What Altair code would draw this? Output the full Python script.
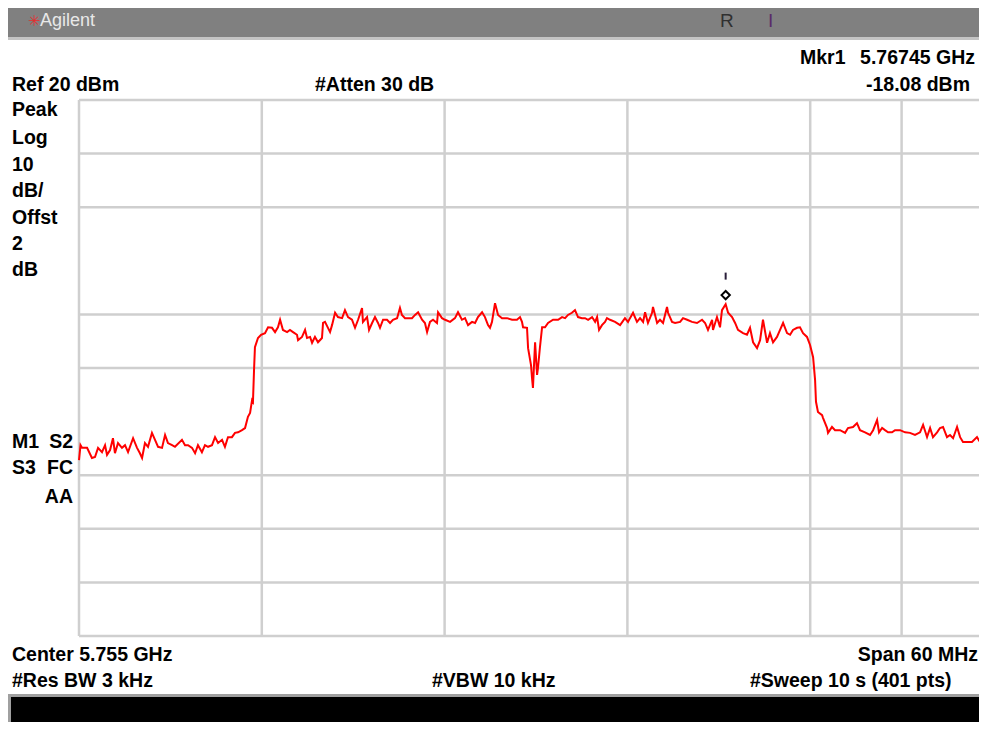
import altair as alt
import pandas as pd

# ---- trace (frequency offset from 5.725 GHz in MHz, level in dBm) ----
FREQ_OFFSET_MHZ = [
    0.0, 0.1, 0.2, 0.53, 0.85, 1.05, 1.25, 1.51, 1.71, 1.84, 2.04, 2.23, 2.36, 2.56, 2.82,
    3.02, 3.22, 3.55, 3.81, 4.00, 4.14, 4.33, 4.53, 4.79, 4.99, 5.19, 5.45, 5.65, 5.84, 6.11,
    6.30, 6.76, 6.96, 7.16, 7.42, 7.62, 7.81, 8.07, 8.27, 8.47, 8.73, 8.93, 9.13, 9.39, 9.58,
    9.78, 10.04, 10.24, 10.44, 10.70, 10.90, 11.09, 11.23, 11.36, 11.42, 11.49, 11.55, 11.75,
    11.95, 12.21, 12.41, 12.67, 12.87, 13.06, 13.20, 13.39, 13.66, 13.85, 14.05, 14.31, 14.38,
    14.64, 14.84, 14.97, 15.17, 15.30, 15.49, 15.69, 15.95, 16.02, 16.15, 16.48, 16.61, 16.81,
    17.00, 17.27, 17.46, 17.66, 17.92, 18.12, 18.32, 18.58, 18.64, 18.91, 19.04, 19.24, 19.43,
    19.63, 19.76, 19.96, 20.22, 20.42, 20.61, 20.88, 21.07, 21.20, 21.40, 21.60, 21.86, 22.06,
    22.26, 22.52, 22.71, 22.85, 23.04, 23.24, 23.50, 23.57, 23.83,
    24.03, 24.36, 24.68, 24.88, 25.14, 25.34, 25.54, 25.80, 26.00, 26.19, 26.46, 26.65, 26.85,
    26.98, 27.11, 27.31, 27.51, 27.77, 28.10, 28.43, 28.75, 28.95, 29.08, 29.15, 29.41, 29.48,
    29.67, 29.74, 29.80, 29.94, 30.07, 30.13, 30.26, 30.40, 30.59, 30.79, 31.12, 31.45, 31.71,
    31.91, 32.10, 32.36, 32.56, 32.76, 33.02, 33.22, 33.42, 33.68, 33.88, 34.01, 34.14, 34.33,
    34.53, 34.66, 34.86, 35.19, 35.52, 35.84, 36.04,
    36.17, 36.37, 36.63, 36.83, 37.03, 37.16, 37.35, 37.62, 37.68, 37.95, 38.14, 38.34, 38.60,
    38.67, 38.93, 39.13, 39.46, 39.65, 39.92, 40.24, 40.57, 40.90, 41.10, 41.29, 41.56, 41.62,
    41.88, 42.08, 42.21, 42.45, 42.61, 42.87, 43.07, 43.26, 43.59, 43.85, 44.05, 44.25, 44.51,
    44.71, 44.90, 45.17, 45.36, 45.56, 45.82, 46.02, 46.22, 46.48, 46.68, 46.87, 47.14, 47.33,
    47.53, 47.79, 47.99, 48.19, 48.32, 48.38, 48.51, 48.78, 48.84, 49.11, 49.17, 49.43, 49.63,
    49.96, 50.29, 50.48, 50.81, 51.07, 51.27, 51.60, 51.93, 52.13, 52.39, 52.52, 52.72, 52.91,
    53.11, 53.37, 53.57, 53.90, 54.23, 54.55, 54.88, 55.21, 55.41, 55.67, 55.87, 56.06, 56.33,
    56.52, 56.72, 56.98, 57.18, 57.38, 57.64, 57.84, 58.03, 58.36, 58.62, 58.95, 59.15, 59.35,
    59.61,
]
LEVEL_DBM = [
    -47.2, -44.4, -44.9, -44.9, -46.8, -46.6, -44.9, -45.7, -44.4, -46.2, -45.3, -43.1, -45.9, -44.0, -44.9,
    -44.4, -45.7, -43.1, -44.9, -45.9, -46.8, -44.0, -44.7, -42.1, -43.4, -44.7, -44.9, -42.5, -44.0, -44.4,
    -44.7, -43.4, -44.4, -44.4, -44.9, -45.9, -44.4, -45.7, -44.4, -44.7, -44.4, -42.9, -44.0, -43.4, -44.7,
    -42.9, -42.9, -42.1, -42.0, -41.6, -41.2, -39.1, -38.4, -36.0, -36.3, -30.4, -26.1, -24.4,
    -23.8, -23.5, -22.4, -22.5, -23.3, -22.4, -21.0, -22.9, -23.3, -22.9, -23.3, -23.8, -24.8,
    -24.2, -22.9, -24.4, -24.2, -25.3, -24.2, -25.2, -24.4, -21.6, -21.4, -23.3, -22.0, -19.7,
    -20.5, -20.7, -19.2, -20.5, -21.0, -22.5, -21.0, -18.8, -21.4, -20.5, -22.9, -21.6, -20.5,
    -21.6, -22.5, -21.0, -21.0, -21.6, -21.0, -20.7, -18.8, -20.1, -20.7, -20.7, -20.7, -20.1,
    -19.6, -21.0, -21.6, -23.3, -21.4, -21.0, -21.6, -19.6, -20.7,
    -21.0, -21.4, -20.7, -19.6, -21.0, -20.7, -22.0, -21.4, -21.6, -20.5, -19.6, -20.5, -22.0,
    -22.5, -21.4, -17.9, -20.1, -20.7, -20.7, -21.0, -21.0, -20.5, -21.4, -22.4, -22.5, -26.3,
    -29.4, -31.9, -33.7, -25.2, -31.3, -30.0, -26.1, -22.4, -22.4, -21.6, -21.0, -21.0, -20.5,
    -20.7, -20.1, -19.7, -19.2, -20.5, -20.7, -20.7, -21.0, -20.5, -21.4, -20.5, -22.9, -22.0,
    -21.4, -20.7, -21.0, -21.4, -22.0, -20.7, -21.4,
    -20.7, -19.7, -21.4, -20.7, -21.4, -19.6, -21.6, -19.7, -18.6, -21.6, -21.0, -21.6, -18.6,
    -19.7, -21.4, -21.6, -21.4, -20.7, -21.0, -21.4, -21.6, -21.0, -21.6, -22.9, -21.0, -22.9,
    -20.5, -22.4, -19.2, -18.08, -19.7, -20.5, -21.6, -22.9, -23.5, -23.8, -22.5, -25.2, -26.3,
    -24.8, -21.0, -25.3, -23.5, -25.2, -24.2, -22.9, -21.6, -23.5, -23.8, -22.9, -22.5, -22.4,
    -23.5, -24.2, -25.7, -28.0, -32.2, -36.3, -38.2, -38.8, -39.3, -41.2, -42.1, -41.0, -41.6,
    -41.6, -42.1, -41.2, -41.0, -40.3, -41.6, -42.0, -42.5, -41.6, -39.7, -42.0, -41.2, -41.6,
    -42.0, -42.0, -41.6, -41.6, -42.0, -42.1, -42.5, -42.0, -40.6, -42.9, -41.2, -42.9, -42.0,
    -41.2, -41.0, -42.9, -42.5, -43.1, -41.0, -42.9, -43.8, -43.8, -43.8, -42.9, -43.8, -44.7,
    -45.7,
]

H_GRID_DBM = [20, 10, 0, -20, -30, -50, -60, -70, -80]
V_GRID_MHZ = [0, 12, 24, 36, 48, 54]
MARKER_MHZ = [42.45]
MARKER_DBM = [-18.08]

W, H = 971, 714
FONT = "Liberation Sans, Arial, sans-serif"
GRID = "#cfcfcf"

xs = alt.Scale(domain=[0, 60], range=[71, 985])
ys = alt.Scale(domain=[-80, 20], range=[628, 92])


def one():
    return alt.Chart(pd.DataFrame({"k": [0]}))


def box(x, x2, y, y2, color):
    return one().mark_rect(color=color).encode(
        x=alt.value(x), x2=alt.value(x2), y=alt.value(y), y2=alt.value(y2))


def label(t, x, y, align="left", size=19.5, color="black", weight="bold"):
    return alt.Chart(pd.DataFrame({"t": [t]})).mark_text(
        align=align, baseline="middle", font=FONT, fontSize=size,
        fontWeight=weight, color=color).encode(
        x=alt.value(x), y=alt.value(y), text="t:N")


trace_df = pd.DataFrame({"mhz": FREQ_OFFSET_MHZ, "dbm": LEVEL_DBM})
hgrid = alt.Chart(pd.DataFrame({"dbm": H_GRID_DBM})).mark_rule(
    color=GRID, strokeWidth=2.5).encode(
    y=alt.Y("dbm:Q", scale=ys, axis=None), x=alt.value(71), x2=alt.value(W))
vgrid = alt.Chart(pd.DataFrame({"mhz": V_GRID_MHZ})).mark_rule(
    color=GRID, strokeWidth=2.5).encode(
    x=alt.X("mhz:Q", scale=xs, axis=None), y=alt.value(92), y2=alt.value(628))

trace = alt.Chart(trace_df).mark_line(color="#ff0000", strokeWidth=2, clip=True).encode(
    x=alt.X("mhz:Q", scale=xs, axis=None),
    y=alt.Y("dbm:Q", scale=ys, axis=None),
)

mk_df = pd.DataFrame({"mhz": MARKER_MHZ, "dbm": MARKER_DBM})
marker = alt.Chart(mk_df).mark_point(
    shape="diamond", filled=False, color="black", strokeWidth=2, size=70, yOffset=-9, opacity=1
).encode(x=alt.X("mhz:Q", scale=xs, axis=None), y=alt.Y("dbm:Q", scale=ys, axis=None))
marker_tick = alt.Chart(mk_df).mark_tick(
    orient="vertical", color="#2a1f3a", size=7, thickness=2, yOffset=-28, opacity=1
).encode(x=alt.X("mhz:Q", scale=xs, axis=None), y=alt.Y("dbm:Q", scale=ys, axis=None))

layers = [
    box(0, W, 0, 29, "#808080"),
    box(0, W, 29, 32, "#c4c4c4"),
    label("\u2733", 20, 13, size=15, color="#e03030", weight="normal"),
    label("Agilent", 32, 13, size=18, color="#e8e8e8", weight="normal"),
    label("R", 712, 13, size=19, color="#303030", weight="normal"),
    label("I", 760, 13, size=19, color="#5a2a6a", weight="normal"),
    hgrid,
    vgrid,
    trace,
    marker,
    marker_tick,
    label("Mkr1", 792, 50),
    label("5.76745 GHz", 967, 50, align="right"),
    label("Ref 20 dBm", 4, 77),
    label("#Atten 30 dB", 307, 77),
    label("-18.08 dBm", 962, 77, align="right"),
    label("Peak", 4, 102),
    label("Log", 4, 130),
    label("10", 4, 157),
    label("dB/", 4, 183),
    label("Offst", 4, 210),
    label("2", 4, 236),
    label("dB", 4, 262),
    label("M1", 4, 434),
    label("S2", 65, 434, align="right"),
    label("S3", 4, 460),
    label("FC", 65, 460, align="right"),
    label("AA", 65, 489, align="right"),
    label("Center 5.755 GHz", 4, 647),
    label("Span 60 MHz", W - 1, 647, align="right"),
    label("#Res BW 3 kHz", 4, 673),
    label("#VBW 10 kHz", 424, 673),
    label("#Sweep 10 s (401 pts)", 742, 673),
    box(0, W, 686, H, "#a0a0a0"),
    box(3, W, 689, H, "#000000"),
]

chart = alt.layer(*layers).properties(
    width=W, height=H, padding=0, autosize="none", background="white"
).configure_view(stroke=None)

chart.save("out.html", embed_options={"renderer": "svg", "actions": False})
